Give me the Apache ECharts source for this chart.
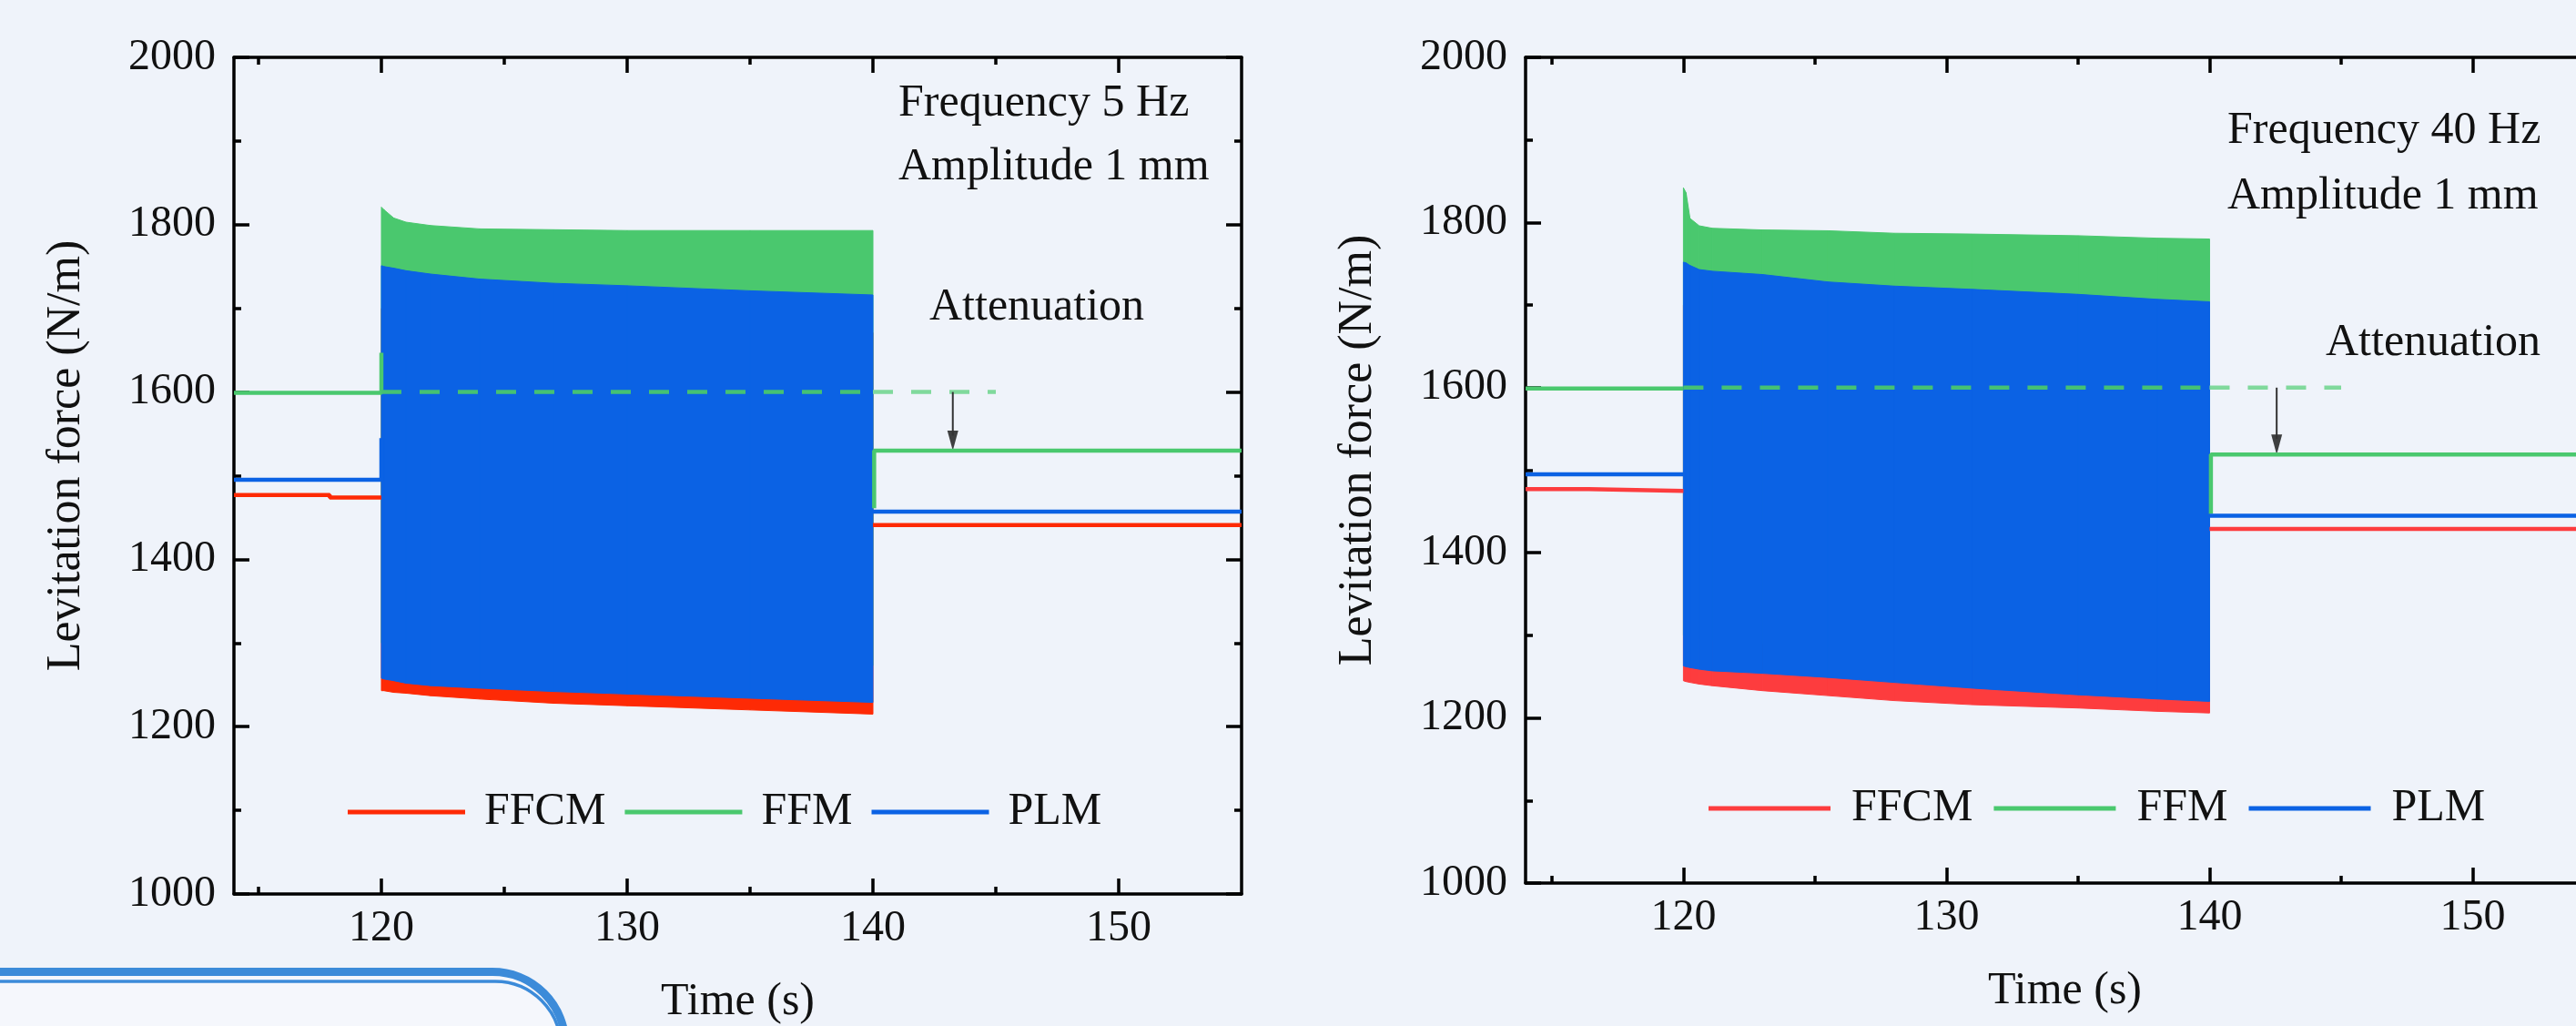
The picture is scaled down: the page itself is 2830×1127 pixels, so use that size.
<!DOCTYPE html>
<html>
<head>
<meta charset="utf-8">
<title>Levitation force</title>
<script src="https://cdn.jsdelivr.net/npm/echarts@6/dist/echarts.min.js"></script>
<style>
html, body { margin: 0; padding: 0; background: #eff3fa; overflow: hidden; }
#chart { width: 2830px; height: 1127px; }
</style>
</head>
<body>
<div id="chart"></div>
<script>
// tick labels
const majorTicks = [120, 130, 140, 150]
const minorTicks = [115, 125, 135, 145]

// 5 Hz, oscillation envelopes (s, N/m)
const bandTime5 = [120, 120.1, 120.5, 121, 122, 124, 127, 130, 135, 140]
const ffmTop5 = [1821, 1818, 1808, 1803, 1799, 1795, 1794, 1793, 1793, 1793]
const ffmBottom5 = [1300, 1298, 1296, 1294, 1291, 1288, 1284, 1281, 1277, 1273]
const plmTop5 = [1751, 1750, 1748, 1745, 1741, 1735, 1730, 1727, 1721, 1716]
const plmBottom5 = [1258, 1257, 1255, 1252, 1249, 1246, 1242, 1239, 1234, 1229]
const ffcmTop5 = [1700, 1699, 1697, 1695, 1692, 1688, 1684, 1681, 1676, 1671]
const ffcmBottom5 = [1243, 1243, 1241, 1240, 1237, 1233, 1228, 1225, 1220, 1215]
// 5 Hz, static parts before / after vibration
const ffcmLine5 = [[114, 1477], [117.9, 1477], [117.9, 1474], [120, 1474], [130, null], [140, 1441], [155, 1441]]
const ffmLine5 = [[114, 1599], [120, 1599], [120, 1647], [130, null], [140.05, 1461], [140.05, 1530], [155, 1530]]
const plmLine5 = [[114, 1495], [120, 1495], [120, 1545], [130, null], [140, 1457], [155, 1457]]
const refIn5 = [[120, 1600], [140, 1600]]
const refOut5 = [[140, 1600], [145, 1600]]
const arrow5 = [[143.25, 1600], [143.25, 1548]]
const arrowTip5 = [[143.25, 1530]]

// 40 Hz, oscillation envelopes
const bandTime40 = [120, 120.1, 120.25, 120.6, 121.1, 123, 125.5, 128, 131, 135, 138, 140]
const ffmTop40 = [1842, 1836, 1805, 1796, 1793, 1791, 1790, 1787, 1786, 1784, 1781, 1780]
const ffmBottom40 = [1300, 1299, 1298, 1296, 1294, 1290, 1286, 1282, 1278, 1273, 1270, 1268]
const plmTop40 = [1752, 1751, 1748, 1743, 1741, 1737, 1728, 1723, 1719, 1713, 1707, 1704]
const plmBottom40 = [1263, 1262, 1261, 1259, 1257, 1254, 1249, 1243, 1236, 1228, 1223, 1220]
const ffcmTop40 = [1700, 1699, 1698, 1696, 1694, 1690, 1686, 1682, 1678, 1673, 1670, 1668]
const ffcmBottom40 = [1245, 1244, 1243, 1241, 1239, 1233, 1227, 1221, 1216, 1212, 1208, 1206]
// 40 Hz, static parts
const ffcmLine40 = [[114, 1477], [116.4, 1477], [116.4, 1475], [120, 1475], [130, null], [140, 1429], [155, 1429]]
const ffmLine40 = [[114, 1599], [120, 1599], [130, null], [140.05, 1447], [140.05, 1519], [155, 1519]]
const plmLine40 = [[114, 1495], [120, 1495], [130, null], [140, 1445], [155, 1445]]
const refIn40 = [[120, 1600], [140, 1600]]
const refOut40 = [[140, 1600], [145, 1600]]
const arrow40 = [[142.55, 1600], [142.55, 1538]]
const arrowTip40 = [[142.55, 1519]]

const FONT = '"Liberation Serif", "Times New Roman", serif'
const INK = '#111'
const GREEN = '#4ac86e'
const BLUE = '#0b62e4'
const axisLine = { color: '#000', width: 3.5 }

function band (times, low, high) {
  return times.map((t, i) => [t, low[i], high[i]])
}

// one quad between neighbouring envelope points
function renderBand (params, api) {
  const i = params.dataIndexInside
  if (i >= params.dataInsideLength - 1) return null
  const a = api.coord([api.value(0, i), api.value(1, i)])
  const b = api.coord([api.value(0, i + 1), api.value(1, i + 1)])
  const c = api.coord([api.value(0, i + 1), api.value(2, i + 1)])
  const d = api.coord([api.value(0, i), api.value(2, i)])
  const color = api.visual('color')
  return {
    type: 'polygon',
    shape: { points: [a, b, c, d] },
    style: { fill: color, stroke: color, lineWidth: 1 }
  }
}

function bandSeries (name, color, data, g) {
  return {
    type: 'custom', name, data,
    xAxisIndex: g * 4, yAxisIndex: g * 2,
    encode: { x: 0, y: [1, 2] },
    itemStyle: { color },
    renderItem: renderBand,
    silent: true
  }
}

function lineSeries (name, color, data, g, extra) {
  return Object.assign({
    type: 'line', name, data,
    xAxisIndex: g * 4, yAxisIndex: g * 2,
    symbol: 'none',
    connectNulls: false,
    itemStyle: { color },
    lineStyle: { color, width: 4.5 },
    silent: true
  }, extra || {})
}

function xAxes (g) {
  const base = { type: 'value', gridIndex: g, min: 114, max: 155, splitLine: { show: false } }
  return [
    Object.assign({}, base, {
      position: 'bottom',
      name: 'Time (s)', nameLocation: 'middle', nameGap: 94,
      nameTextStyle: { fontSize: 50, color: INK, fontFamily: FONT },
      axisLine: { onZero: false, lineStyle: axisLine },
      axisTick: { inside: true, length: 17, customValues: majorTicks, lineStyle: axisLine },
      axisLabel: { customValues: majorTicks, margin: 14, fontSize: 48, color: INK, fontFamily: FONT }
    }),
    Object.assign({}, base, {
      position: 'bottom',
      axisLine: { show: false },
      axisTick: { inside: true, length: 8, customValues: minorTicks, lineStyle: axisLine },
      axisLabel: { show: false }
    }),
    Object.assign({}, base, {
      position: 'top',
      axisLine: { onZero: false, lineStyle: axisLine },
      axisTick: { inside: true, length: 17, customValues: majorTicks, lineStyle: axisLine },
      axisLabel: { show: false }
    }),
    Object.assign({}, base, {
      position: 'top',
      axisLine: { show: false },
      axisTick: { inside: true, length: 8, customValues: minorTicks, lineStyle: axisLine },
      axisLabel: { show: false }
    })
  ]
}

function yAxes (g) {
  const base = {
    type: 'value', gridIndex: g, min: 1000, max: 2000, interval: 200,
    splitLine: { show: false },
    axisLine: { onZero: false, lineStyle: axisLine },
    axisTick: { inside: true, length: 17, lineStyle: axisLine },
    minorTick: { show: true, splitNumber: 2, length: 8, lineStyle: axisLine }
  }
  return [
    Object.assign({}, base, {
      position: 'left',
      name: 'Levitation force (N/m)', nameLocation: 'middle', nameRotate: 90, nameGap: 158,
      nameTextStyle: { fontSize: 52, color: INK, fontFamily: FONT, padding: [0, 0, 0, 44] },
      axisLabel: { margin: 20, fontSize: 48, color: INK, fontFamily: FONT, formatter: v => String(v) }
    }),
    Object.assign({}, base, { position: 'right', axisLabel: { show: false } })
  ]
}

function panelSeries (g, red, d) {
  return [
    bandSeries('FFCM', red, band(d.t, d.ffcmBottom, d.ffcmTop), g),
    bandSeries('FFM', GREEN, band(d.t, d.ffmBottom, d.ffmTop), g),
    bandSeries('PLM', BLUE, band(d.t, d.plmBottom, d.plmTop), g),
    lineSeries('FFCM', red, d.ffcmLine, g),
    lineSeries('FFM', GREEN, d.ffmLine, g),
    lineSeries('PLM', BLUE, d.plmLine, g),
    lineSeries('ref', '#45c173', d.refIn, g, { lineStyle: { color: '#45c173', width: 4.5, type: [22, 20] } }),
    lineSeries('ref', '#80d99c', d.refOut, g, { lineStyle: { color: '#80d99c', width: 4.5, type: [22, 20] } }),
    lineSeries('arrow', '#333', d.arrow, g, { lineStyle: { color: '#333', width: 2 } }),
    {
      type: 'scatter', name: 'arrow', data: d.tip,
      xAxisIndex: g * 4, yAxisIndex: g * 2,
      symbol: 'path://M0,0L10,0L5,20Z', symbolSize: [12, 22], symbolOffset: [0, -11],
      itemStyle: { color: '#111' }, silent: true
    }
  ]
}

function legendFor (left, top, width, gap, pad, red) {
  return {
    left, top, icon: 'rect', itemWidth: width, itemHeight: 5, itemGap: gap,
    selectedMode: false,
    data: [
      { name: 'FFCM', itemStyle: { color: red } },
      { name: 'FFM', itemStyle: { color: GREEN } },
      { name: 'PLM', itemStyle: { color: BLUE } }
    ],
    textStyle: { fontSize: 50, lineHeight: 50, color: INK, fontFamily: FONT, padding: [0, 0, 0, pad] }
  }
}

function label (x, y, text) {
  return {
    type: 'text', x, y,
    style: { text, fontSize: 50, fontFamily: FONT, fill: INK, verticalAlign: 'middle' }
  }
}

const chart = echarts.init(document.getElementById('chart'))
chart.setOption({
  animation: false,
  backgroundColor: '#eff3fa',
  textStyle: { fontFamily: FONT },
  grid: [
    { left: 257, top: 63, width: 1107, height: 919, outerBoundsMode: 'none' },
    { left: 1676, top: 63, width: 1185, height: 907, outerBoundsMode: 'none' }
  ],
  xAxis: xAxes(0).concat(xAxes(1)),
  yAxis: yAxes(0).concat(yAxes(1)),
  legend: [
    legendFor(377, 862, 129, 21, 16, '#fe2a05'),
    legendFor(1872, 858, 134, 23, 18, '#fd3c3e')
  ],
  graphic: [
    // page frame corner at lower left
    {
      type: 'rect', z: -10,
      shape: { x: -20, y: 1067.5, width: 641, height: 300, r: [0, 80, 0, 0] },
      style: { fill: '#f5f7fc', stroke: '#3c8bd9', lineWidth: 9 }
    },
    {
      type: 'rect', z: -9,
      shape: { x: -20, y: 1078, width: 636, height: 300, r: [0, 72, 0, 0] },
      style: { fill: 'none', stroke: '#3c8bd9', lineWidth: 3.5 }
    },
    label(987, 114, 'Frequency 5 Hz'),
    label(987, 184, 'Amplitude 1 mm'),
    label(1021, 338, 'Attenuation'),
    label(2447, 144, 'Frequency 40 Hz'),
    label(2447, 216, 'Amplitude 1 mm'),
    label(2555, 377, 'Attenuation')
  ],
  series: panelSeries(0, '#fe2a05', {
    t: bandTime5,
    ffmTop: ffmTop5, ffmBottom: ffmBottom5,
    plmTop: plmTop5, plmBottom: plmBottom5,
    ffcmTop: ffcmTop5, ffcmBottom: ffcmBottom5,
    ffcmLine: ffcmLine5, ffmLine: ffmLine5, plmLine: plmLine5,
    refIn: refIn5, refOut: refOut5, arrow: arrow5, tip: arrowTip5
  }).concat(panelSeries(1, '#fd3c3e', {
    t: bandTime40,
    ffmTop: ffmTop40, ffmBottom: ffmBottom40,
    plmTop: plmTop40, plmBottom: plmBottom40,
    ffcmTop: ffcmTop40, ffcmBottom: ffcmBottom40,
    ffcmLine: ffcmLine40, ffmLine: ffmLine40, plmLine: plmLine40,
    refIn: refIn40, refOut: refOut40, arrow: arrow40, tip: arrowTip40
  }))
})
</script>
</body>
</html>
